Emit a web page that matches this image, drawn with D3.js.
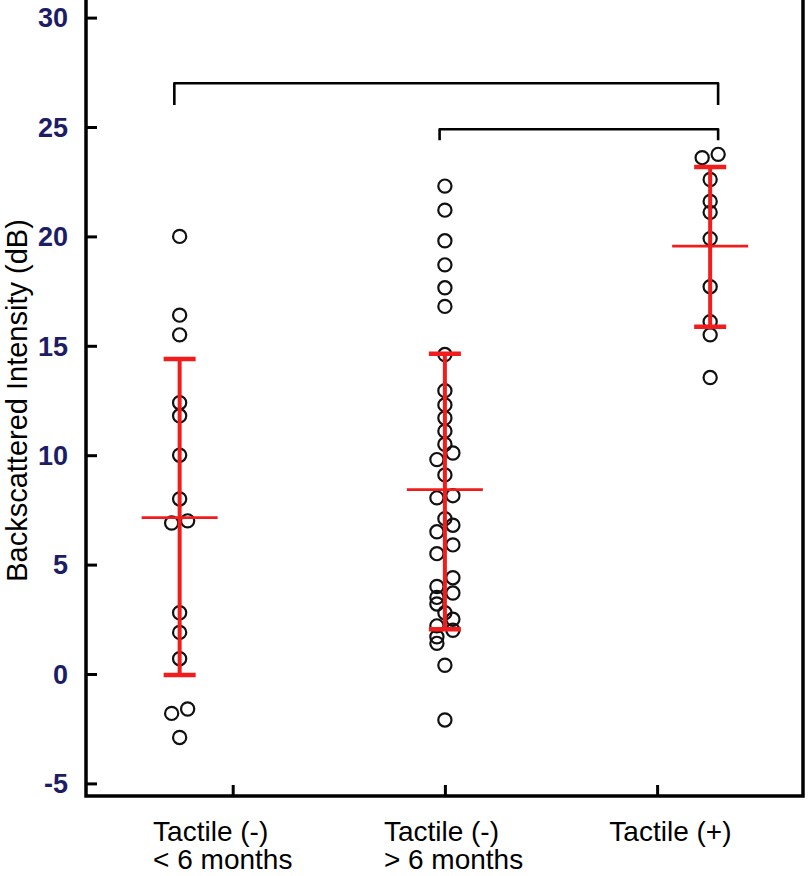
<!DOCTYPE html>
<html>
<head>
<meta charset="utf-8">
<script src="https://cdn.jsdelivr.net/npm/d3@7"></script>
<style>
  html, body { margin: 0; padding: 0; background: #fff; }
  svg { display: block; }
</style>
</head>
<body>
<svg id="chart" width="808" height="876"></svg>
<script>
// ---------- DATA ----------
const categories = ["Tactile (-)\n< 6 months", "Tactile (-)\n> 6 months", "Tactile (+)"];
const groupPos = [1, 2, 3];              // category positions on x axis (category units)
const tickPos = [1.2, 2, 2.8];           // x tick positions (category units)
const labelPos = [0.9, 1.77, 2.62];      // left edge of category label (category units)

// individual points: value, side (-1 left, 0 centre, 1 right)
const group1Values = [20.0, 16.4, 15.5, 12.4, 11.8, 10.0, 8.0, 7.0, 6.9, 2.8, 1.9, 0.7, -1.6, -1.8, -2.9];
const group1Sides  = [0, 0, 0, 0, 0, 0, 0, 1, -1, 0, 0, 0, 1, -1, 0];

const group2Values = [22.3, 21.2, 19.8, 18.7, 17.65, 16.8, 14.6, 12.95, 12.3, 11.7, 11.1, 10.5, 10.1, 9.8, 9.1,
                      8.15, 8.05, 7.1, 6.8, 6.5, 5.9, 5.5, 4.4, 4.0, 3.7, 3.5, 3.2, 2.8, 2.5, 2.2, 2.0, 1.7, 1.4, 0.4, -2.1];
const group2Sides  = [0, 0, 0, 0, 0, 0, 0, 0, 0, 0, 0, 0, 1, -1, 0,
                      1, -1, 0, 1, -1, 1, -1, 1, -1, 1, -1, -1, 0, 1, -1, 1, -1, -1, 0, 0];

const group3Values = [23.75, 23.6, 22.6, 21.6, 21.1, 19.9, 17.7, 16.1, 15.5, 13.55];
const group3Sides  = [1, -1, 0, 0, 0, 0, 0, 0, 0, 0];

// summary statistics (mean and error-bar ends)
const means  = [7.15, 8.43, 19.56];
const upper  = [14.4, 14.64, 23.17];
const lower  = [-0.05, 2.05, 15.87];

// significance brackets: [from x, to x, bar level, left foot, right foot]
const brackets = [
  [0.98, 3.03, 27.0, 26.0, 26.0],
  [1.98, 3.03, 24.9, 24.4, 24.4]
];

const yTicks = [-5, 0, 5, 10, 15, 20, 25, 30];
const yLabel = "Backscattered Intensity (dB)";

// ---------- LAYOUT ----------
const svg = d3.select("#chart");
const left = 86, right = 803, bottom = 796;
const x = d3.scaleLinear().domain([0.647, 3.35]).range([left, right]);
const y = d3.scaleLinear().domain([-5, 30]).range([783.4, 17.6]);
const jitter = 8;
const red = "#f21c1c";

// frame
svg.append("path")
  .attr("d", `M${left},-5 L${left},${bottom} L${right},${bottom} L${right},-5`)
  .attr("fill", "none").attr("stroke", "#000").attr("stroke-width", 3.5);

// y ticks (inward)
const yAxis = d3.axisRight(y).tickValues(yTicks).tickSize(11).tickFormat("");
svg.append("g").attr("transform", `translate(${left},0)`).call(yAxis)
  .call(g => g.select(".domain").remove())
  .call(g => g.selectAll("line").attr("stroke", "#000").attr("stroke-width", 3));

// y tick labels
svg.append("g").selectAll("text").data(yTicks).join("text")
  .attr("x", 68).attr("y", d => y(d))
  .attr("dy", "0.36em")
  .attr("text-anchor", "end")
  .attr("font-family", "Liberation Sans, Arial, sans-serif")
  .attr("font-weight", "bold")
  .attr("font-size", 27)
  .attr("fill", "#1c1d66")
  .text(d => d);

// x ticks (inward)
const xAxis = d3.axisTop(x).tickValues(tickPos).tickSize(11).tickFormat("");
svg.append("g").attr("transform", `translate(0,${bottom})`).call(xAxis)
  .call(g => g.select(".domain").remove())
  .call(g => g.selectAll("line").attr("stroke", "#000").attr("stroke-width", 3));

// x labels
const xl = svg.append("g").selectAll("text").data(categories).join("text")
  .attr("x", (d, i) => x(labelPos[i]))
  .attr("y", 841)
  .attr("font-family", "Liberation Sans, Arial, sans-serif")
  .attr("font-size", 28)
  .attr("fill", "#000");
xl.each(function(d) {
  const lines = d.split("\n");
  const t = d3.select(this);
  lines.forEach((ln, k) => {
    t.append("tspan").attr("x", t.attr("x")).attr("dy", k === 0 ? 0 : 28).text(ln);
  });
});

// y label
svg.append("text")
  .attr("transform", `translate(27,${y(12.5)}) rotate(-90)`)
  .attr("text-anchor", "middle")
  .attr("font-family", "Liberation Sans, Arial, sans-serif")
  .attr("font-size", 29)
  .attr("fill", "#000")
  .text(yLabel);

// brackets
svg.append("g").selectAll("path").data(brackets).join("path")
  .attr("d", d => `M${x(d[0])},${y(d[3])} L${x(d[0])},${y(d[2])} L${x(d[1])},${y(d[2])} L${x(d[1])},${y(d[4])}`)
  .attr("fill", "none").attr("stroke", "#000").attr("stroke-width", 2.6)
  .attr("stroke-linejoin", "round");

// points
const groups = [
  { vals: group1Values, sides: group1Sides },
  { vals: group2Values, sides: group2Sides },
  { vals: group3Values, sides: group3Sides }
];
const pts = [];
groups.forEach((g, gi) => g.vals.forEach((v, k) => pts.push({ gi, v, s: g.sides[k] })));
svg.append("g").selectAll("circle").data(pts).join("circle")
  .attr("cx", d => x(groupPos[d.gi]) + d.s * jitter)
  .attr("cy", d => y(d.v))
  .attr("r", 6.6)
  .attr("fill", "none")
  .attr("stroke", "#111")
  .attr("stroke-width", 2.2);

// error bars
const eb = svg.append("g");
eb.selectAll(".vbar").data(groupPos).join("line")
  .attr("x1", (d) => x(d)).attr("x2", d => x(d))
  .attr("y1", (d, i) => y(upper[i])).attr("y2", (d, i) => y(lower[i]))
  .attr("stroke", red).attr("stroke-width", 4);
eb.selectAll(".capU").data(groupPos).join("line")
  .attr("x1", d => x(d) - 16).attr("x2", d => x(d) + 16)
  .attr("y1", (d, i) => y(upper[i])).attr("y2", (d, i) => y(upper[i]))
  .attr("stroke", red).attr("stroke-width", 4.5);
eb.selectAll(".capL").data(groupPos).join("line")
  .attr("x1", d => x(d) - 16).attr("x2", d => x(d) + 16)
  .attr("y1", (d, i) => y(lower[i])).attr("y2", (d, i) => y(lower[i]))
  .attr("stroke", red).attr("stroke-width", 4.5);
eb.selectAll(".mean").data(groupPos).join("line")
  .attr("x1", d => x(d) - 38).attr("x2", d => x(d) + 38)
  .attr("y1", (d, i) => y(means[i])).attr("y2", (d, i) => y(means[i]))
  .attr("stroke", red).attr("stroke-width", 2.8);
</script>
</body>
</html>
